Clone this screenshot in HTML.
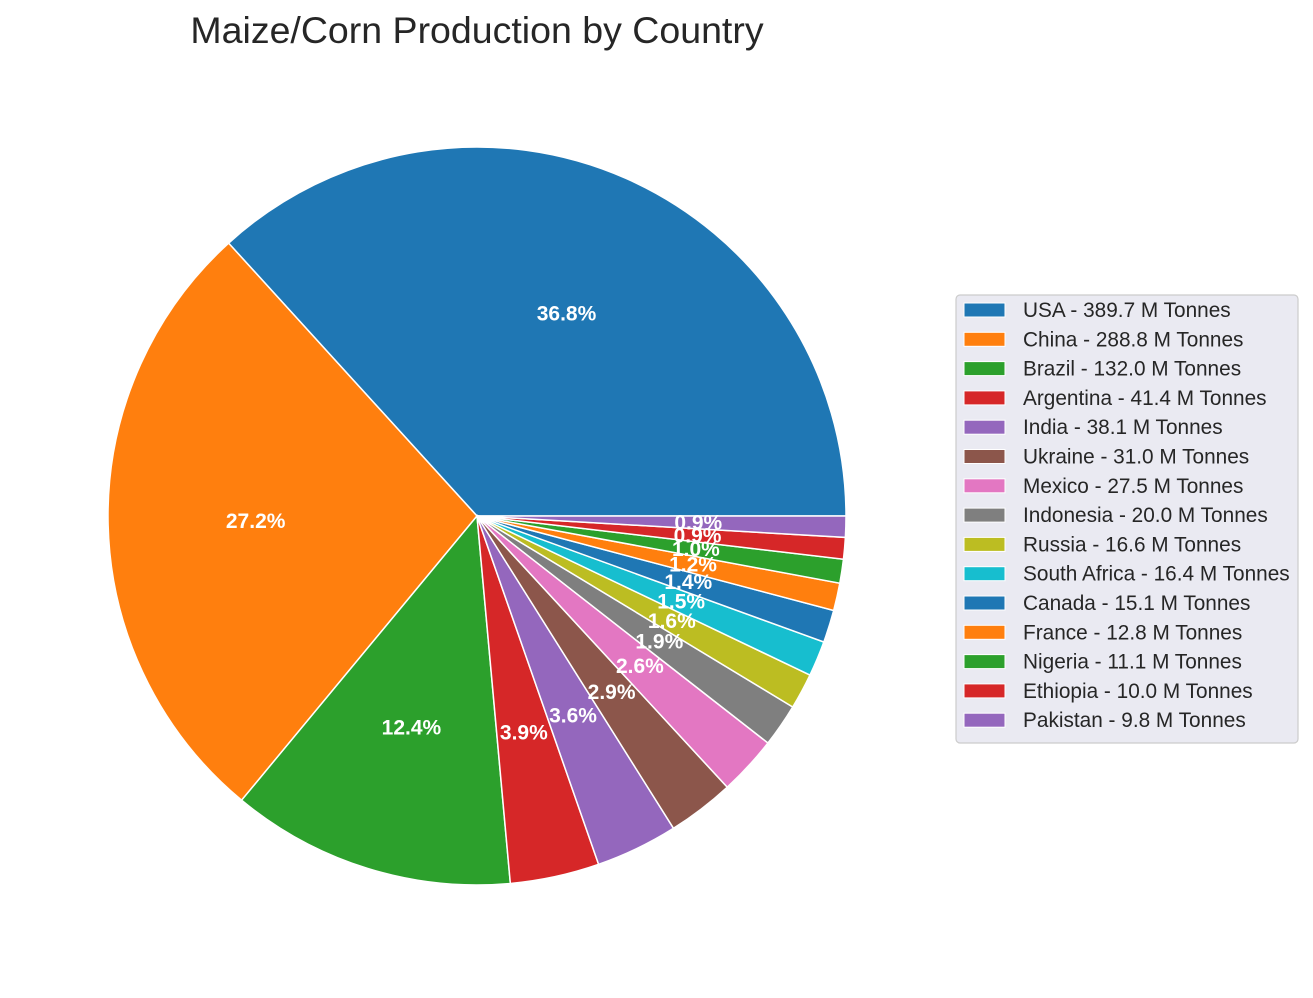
<!DOCTYPE html>
<html><head><meta charset="utf-8"><style>
body{margin:0;background:#fff;font-family:"Liberation Sans",sans-serif}
</style></head><body>
<svg width="1313" height="993" viewBox="0 0 1313 993">
<text x="477" y="43" text-anchor="middle" font-size="37.5" fill="#262626">Maize/Corn Production by Country</text>
<g id="pie"></g>
<g id="labels"></g>
<g>
<rect x="956" y="295" width="342" height="448" rx="4" fill="#eaeaf2" stroke="#cccccc" stroke-width="1.2"/>
<g id="legend"></g>
</g>
</svg>
<script>
const countries=["USA","China","Brazil","Argentina","India","Ukraine","Mexico","Indonesia","Russia","South Africa","Canada","France","Nigeria","Ethiopia","Pakistan"];
const values=[389.7,288.8,132.0,41.4,38.1,31.0,27.5,20.0,16.6,16.4,15.1,12.8,11.1,10.0,9.8];
const colors=["#1f77b4","#ff7f0e","#2ca02c","#d62728","#9467bd","#8c564b","#e377c2","#7f7f7f","#bcbd22","#17becf"];
const NS="http://www.w3.org/2000/svg";
const cx=477,cy=516,R=369;
const total=values.reduce((a,b)=>a+b,0);
const pie=document.getElementById('pie'),lab=document.getElementById('labels'),leg=document.getElementById('legend');
function pt(a,r){return [cx+r*Math.cos(a),cy-r*Math.sin(a)];}
let start=0;
values.forEach((v,i)=>{
  const sweep=v/total*2*Math.PI,end=start+sweep;
  const [x1,y1]=pt(start,R),[x2,y2]=pt(end,R);
  const p=document.createElementNS(NS,'path');
  p.setAttribute('d',`M${cx},${cy}L${x1},${y1}A${R},${R} 0 ${sweep>Math.PI?1:0} 0 ${x2},${y2}Z`);
  p.setAttribute('fill',colors[i%10]);p.setAttribute('stroke','#fff');p.setAttribute('stroke-width','1.5');
  
  
  pie.appendChild(p);
  const [lx,ly]=pt(start+sweep/2,R*0.6);
  const t=document.createElementNS(NS,'text');
  t.setAttribute('x',lx);t.setAttribute('y',ly+7);t.setAttribute('text-anchor','middle');
  t.setAttribute('font-size','21');t.setAttribute('font-weight','bold');t.setAttribute('fill','#fff');
  t.textContent=(v/total*100).toFixed(1)+'%';
  
  
  lab.appendChild(t);
  const y=303+i*29.3;
  const r=document.createElementNS(NS,'rect');
  r.setAttribute('x',964);r.setAttribute('y',y);r.setAttribute('width',41);r.setAttribute('height',14);
  r.setAttribute('fill',colors[i%10]);r.setAttribute('stroke','#fff');r.setAttribute('stroke-width','1');
  
  
  leg.appendChild(r);
  const lt=document.createElementNS(NS,'text');
  lt.setAttribute('x',1023);lt.setAttribute('y',y+14);lt.setAttribute('font-size','20.8');lt.setAttribute('fill','#262626');
  lt.textContent=countries[i]+' - '+v.toFixed(1)+' M Tonnes';
  
  
  leg.appendChild(lt);
  start=end;
});
</script>
</body></html>
